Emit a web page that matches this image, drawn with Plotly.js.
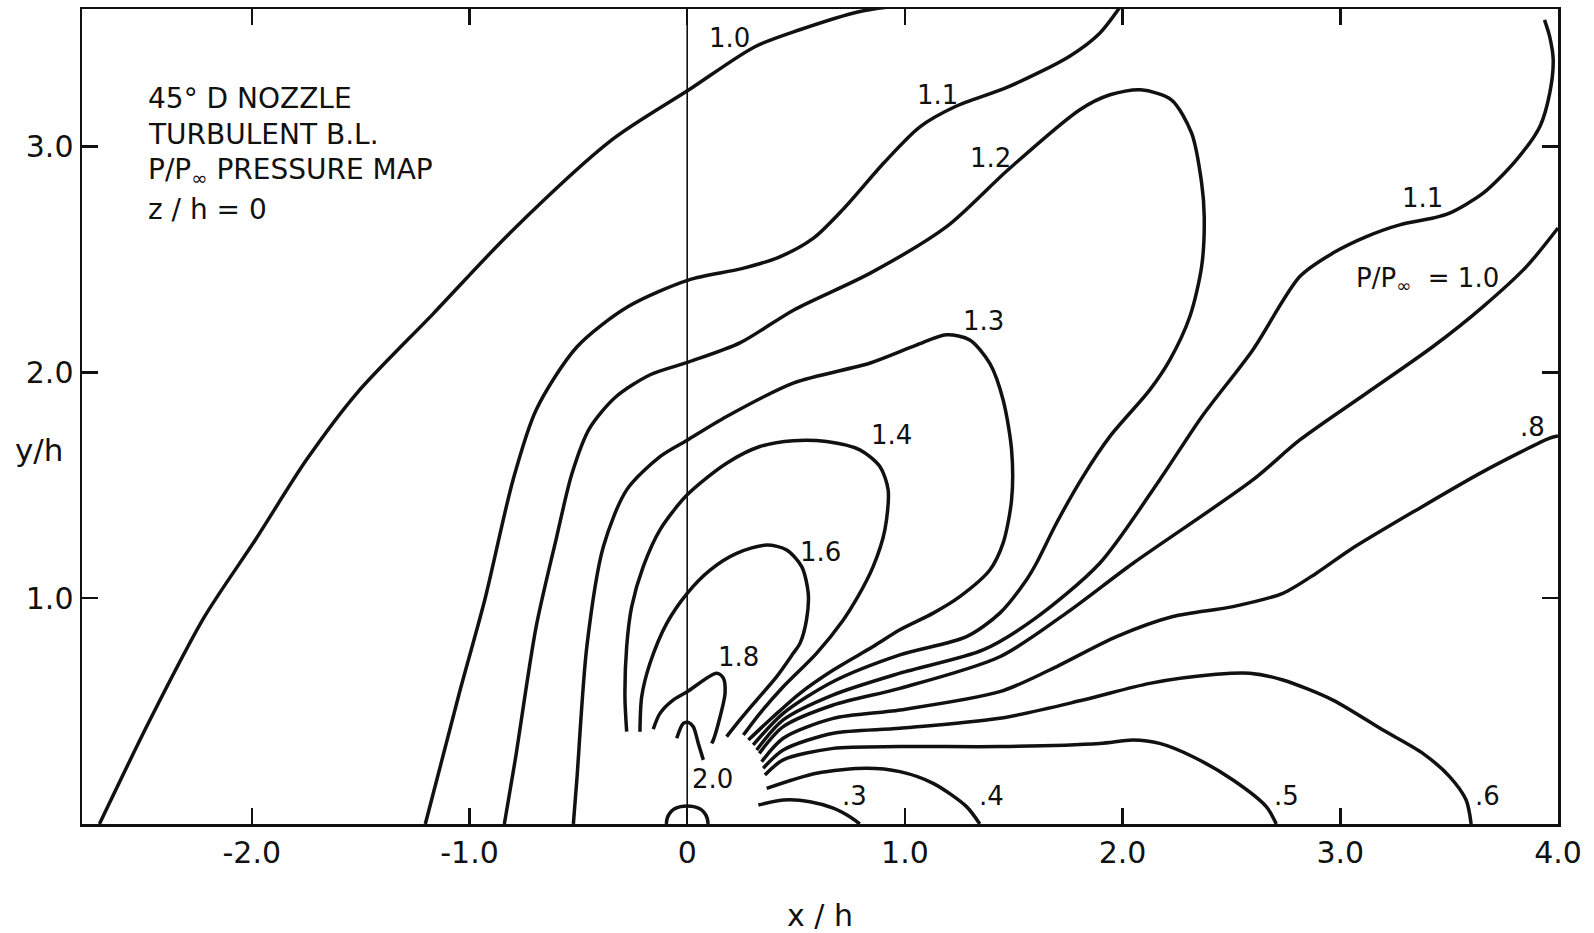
<!DOCTYPE html>
<html>
<head>
<meta charset="utf-8">
<script src="https://cdn.plot.ly/plotly-3.0.1.min.js"></script>
<style>html,body{margin:0;padding:0;background:#fff;}#chart{width:1594px;height:933px;}</style>
</head>
<body>
<div id="chart"></div>
<script>
// ---- Contour lines of P/P_inf (x/h, y/h) ----
const c10L_x = [-2.70, -2.475, -2.218, -1.984, -1.749, -1.516, -1.164, -0.813, -0.345, 0.008, 0.311, 0.517, 0.793, 0.935];
const c10L_y = [0, 0.447, 0.917, 1.258, 1.613, 1.910, 2.263, 2.619, 3.031, 3.252, 3.443, 3.518, 3.599, 3.62];

const c11L_x = [-1.203, -1.047, -0.93, -0.80, -0.694, -0.507, -0.273, 0.008, 0.25, 0.42, 0.58, 0.72, 0.905, 1.069, 1.232, 1.474, 1.755, 1.895, 1.989];
const c11L_y = [0, 0.579, 0.992, 1.524, 1.834, 2.113, 2.291, 2.41, 2.46, 2.51, 2.595, 2.727, 2.93, 3.088, 3.178, 3.265, 3.40, 3.503, 3.62];

const c12_x = [-0.84, -0.79, -0.694, -0.60, -0.53, -0.45, -0.33, -0.17, 0.008, 0.242, 0.49, 0.841, 1.193, 1.474, 1.802, 1.942, 2.083, 2.224, 2.317, 2.363, 2.375, 2.363, 2.309, 2.217, 2.125, 1.941, 1.818, 1.696, 1.604, 1.558, 1.436, 1.283, 0.977, 0.671, 0.441, 0.303];
const c12_y = [0, 0.284, 0.873, 1.27, 1.55, 1.75, 1.89, 1.99, 2.047, 2.131, 2.277, 2.44, 2.647, 2.898, 3.163, 3.23, 3.252, 3.208, 3.06, 2.839, 2.691, 2.469, 2.248, 2.056, 1.923, 1.716, 1.539, 1.332, 1.155, 1.081, 0.934, 0.83, 0.749, 0.631, 0.49, 0.35];

const c13_x = [-0.523, -0.507, -0.461, -0.385, -0.278, -0.125, 0, 0.181, 0.49, 0.841, 1.05, 1.191, 1.298, 1.39, 1.451, 1.49, 1.49, 1.451, 1.39, 1.252, 1.13, 0.977, 0.854, 0.671, 0.518, 0.395, 0.281];
const c13_y = [0, 0.195, 0.786, 1.229, 1.48, 1.627, 1.70, 1.805, 1.954, 2.042, 2.12, 2.167, 2.144, 2.04, 1.879, 1.657, 1.436, 1.244, 1.125, 1.007, 0.934, 0.86, 0.786, 0.682, 0.579, 0.475, 0.372];

const c14_x = [-0.278, -0.286, -0.278, -0.255, -0.202, -0.125, 0, 0.181, 0.334, 0.487, 0.640, 0.793, 0.885, 0.923, 0.908, 0.854, 0.78, 0.717, 0.594, 0.441, 0.334, 0.258];
const c14_y = [0.409, 0.564, 0.786, 0.963, 1.14, 1.303, 1.458, 1.598, 1.672, 1.698, 1.694, 1.657, 1.583, 1.48, 1.303, 1.14, 1.0, 0.904, 0.756, 0.608, 0.49, 0.394];

const c16_x = [-0.217, -0.209, -0.171, -0.094, 0, 0.105, 0.227, 0.365, 0.457, 0.526, 0.556, 0.548, 0.518, 0.487, 0.411, 0.319, 0.242, 0.181];
const c16_y = [0.409, 0.564, 0.712, 0.889, 1.022, 1.125, 1.199, 1.236, 1.214, 1.14, 1.022, 0.904, 0.8, 0.756, 0.653, 0.549, 0.461, 0.387];

const c18_x = [-0.156, -0.125, -0.065, 0, 0.135, 0.166, 0.174, 0.151, 0.12, 0.112];
const c18_y = [0.42, 0.49, 0.549, 0.586, 0.668, 0.646, 0.579, 0.475, 0.372, 0.357];

const c20_x = [-0.048, -0.018, 0.005, 0.028, 0.051, 0.074];
const c20_y = [0.38, 0.446, 0.45, 0.431, 0.357, 0.284];

const c11R_x = [0.319, 0.441, 0.671, 0.977, 1.359, 1.589, 1.895, 2.17, 2.363, 2.598, 2.814, 2.966, 3.12, 3.273, 3.426, 3.502, 3.656, 3.809, 3.917, 3.962, 3.978, 3.962, 3.938];
const c11R_y = [0.328, 0.461, 0.572, 0.668, 0.771, 0.904, 1.155, 1.524, 1.803, 2.1, 2.425, 2.529, 2.602, 2.654, 2.684, 2.706, 2.794, 2.942, 3.09, 3.237, 3.385, 3.487, 3.562];

const c10R_x = [0.331, 0.441, 0.671, 0.977, 1.436, 1.741, 2.048, 2.598, 2.814, 3.12, 3.426, 3.656, 3.855, 4.0];
const c10R_y = [0.313, 0.431, 0.527, 0.601, 0.741, 0.934, 1.155, 1.524, 1.701, 1.908, 2.115, 2.292, 2.469, 2.64];

const c08_x = [0.342, 0.441, 0.671, 0.977, 1.436, 1.665, 1.972, 2.231, 2.507, 2.736, 2.89, 3.044, 3.35, 3.656, 3.962, 4.0];
const c08_y = [0.276, 0.38, 0.468, 0.505, 0.586, 0.682, 0.83, 0.919, 0.963, 1.022, 1.111, 1.214, 1.391, 1.561, 1.709, 1.719];

const c06_x = [0.349, 0.441, 0.671, 0.977, 1.436, 1.818, 2.125, 2.43, 2.584, 2.736, 2.966, 3.196, 3.379, 3.502, 3.578, 3.601];
const c06_y = [0.247, 0.328, 0.402, 0.424, 0.468, 0.549, 0.623, 0.663, 0.668, 0.638, 0.549, 0.416, 0.313, 0.21, 0.106, 0];

const c05_x = [0.357, 0.441, 0.671, 0.977, 1.436, 1.895, 2.048, 2.17, 2.323, 2.507, 2.66, 2.706];
const c05_y = [0.217, 0.284, 0.335, 0.343, 0.343, 0.357, 0.372, 0.357, 0.298, 0.195, 0.077, 0];

const c04_x = [0.365, 0.594, 0.824, 0.977, 1.13, 1.283, 1.344];
const c04_y = [0.158, 0.225, 0.247, 0.232, 0.18, 0.077, 0];

const c03_x = [0.327, 0.441, 0.564, 0.671, 0.747, 0.793];
const c03_y = [0.084, 0.106, 0.099, 0.07, 0.032, 0];

// nozzle outline at the origin
const nozzle_x = [-0.096, -0.092, -0.079, -0.058, -0.03, 0, 0.03, 0.058, 0.079, 0.092, 0.096];
const nozzle_y = [0, 0.025, 0.049, 0.067, 0.077, 0.08, 0.077, 0.067, 0.049, 0.025, 0];

// contour labels
const lab_text = ['1.0', '1.1', '1.2', '1.3', '1.4', '1.6', '1.8', '2.0', '1.1', 'P/P<sub>∞</sub>  = 1.0', '.8', '.3', '.4', '.5', '.6'];
const lab_x    = [0.196, 1.15, 1.395, 1.359, 0.939, 0.61, 0.235, 0.115, 3.379, 3.40, 3.884, 0.768, 1.398, 2.752, 3.675];
const lab_y    = [3.48, 3.23, 2.95, 2.226, 1.724, 1.207, 0.741, 0.198, 2.772, 2.41, 1.76, 0.122, 0.126, 0.126, 0.126];

// tick labels
const xTickVals = [-2, -1, 0, 1, 2, 3, 4];
const xTickText = ['-2.0', '-1.0', '0', '1.0', '2.0', '3.0', '4.0'];
const yTickVals = [1, 2, 3];
const yTickText = ['1.0', '2.0', '3.0'];

// info block
const infoLines = ['45° D NOZZLE', 'TURBULENT B.L.', 'P/P<sub>∞</sub> PRESSURE MAP', 'z / h = 0'];
const infoY = [3.214, 3.052, 2.89, 2.722];

const FONT = 'DejaVu Sans, Liberation Sans, sans-serif';

const series = [
  [c10L_x, c10L_y], [c11L_x, c11L_y], [c12_x, c12_y], [c13_x, c13_y], [c14_x, c14_y],
  [c16_x, c16_y], [c18_x, c18_y], [c20_x, c20_y], [c11R_x, c11R_y], [c10R_x, c10R_y],
  [c08_x, c08_y], [c06_x, c06_y], [c05_x, c05_y], [c04_x, c04_y], [c03_x, c03_y],
  [nozzle_x, nozzle_y]
];

const traces = series.map(s => ({
  type: 'scatter', mode: 'lines', x: s[0], y: s[1],
  line: {color: '#111', width: 3.5, shape: 'spline', smoothing: 0.8},
  hoverinfo: 'skip', showlegend: false
}));

const annotations = [];
for (let i = 0; i < lab_text.length; i++) {
  annotations.push({x: lab_x[i], y: lab_y[i], xref: 'x', yref: 'y', text: lab_text[i],
    showarrow: false, font: {family: FONT, size: 26, color: '#111'}, xanchor: 'center', yanchor: 'middle'});
}
for (let i = 0; i < infoLines.length; i++) {
  annotations.push({x: -2.484, y: infoY[i], xref: 'x', yref: 'y', text: infoLines[i],
    showarrow: false, font: {family: FONT, size: 28, color: '#111'}, xanchor: 'left', yanchor: 'middle'});
}
annotations.push({x: -0.0294, y: 0.459, xref: 'paper', yref: 'paper', text: 'y/h', showarrow: false,
  font: {family: FONT, size: 31, color: '#111'}, xanchor: 'center', yanchor: 'middle'});

const layout = {
  width: 1594, height: 933,
  margin: {l: 82, r: 36, t: 9, b: 109, pad: 0},
  paper_bgcolor: '#fff', plot_bgcolor: '#fff',
  font: {family: FONT, color: '#111'},
  xaxis: {
    range: [-2.78, 4.0], showgrid: false, zeroline: false,
    showline: true, linecolor: '#111', linewidth: 2.5, mirror: 'ticks',
    ticks: 'inside', ticklen: 16, tickwidth: 2.5, tickcolor: '#111',
    tickmode: 'array', tickvals: xTickVals, ticktext: xTickText,
    tickfont: {family: FONT, size: 30, color: '#111'},
    title: {text: 'x / h', font: {family: FONT, size: 30, color: '#111'}, standoff: 40},
    automargin: false
  },
  yaxis: {
    range: [0, 3.61], showgrid: false, zeroline: false,
    showline: true, linecolor: '#111', linewidth: 2.5, mirror: 'ticks',
    ticks: 'inside', ticklen: 16, tickwidth: 2.5, tickcolor: '#111',
    tickmode: 'array', tickvals: yTickVals, ticktext: yTickText,
    tickfont: {family: FONT, size: 30, color: '#111'},
    automargin: false
  },
  shapes: [{type: 'line', xref: 'x', yref: 'paper', x0: 0, x1: 0, y0: 0, y1: 1,
    line: {color: '#111', width: 1.6}}],
  annotations: annotations
};

Plotly.newPlot('chart', traces, layout, {staticPlot: true, displayModeBar: false});
</script>
</body>
</html>
